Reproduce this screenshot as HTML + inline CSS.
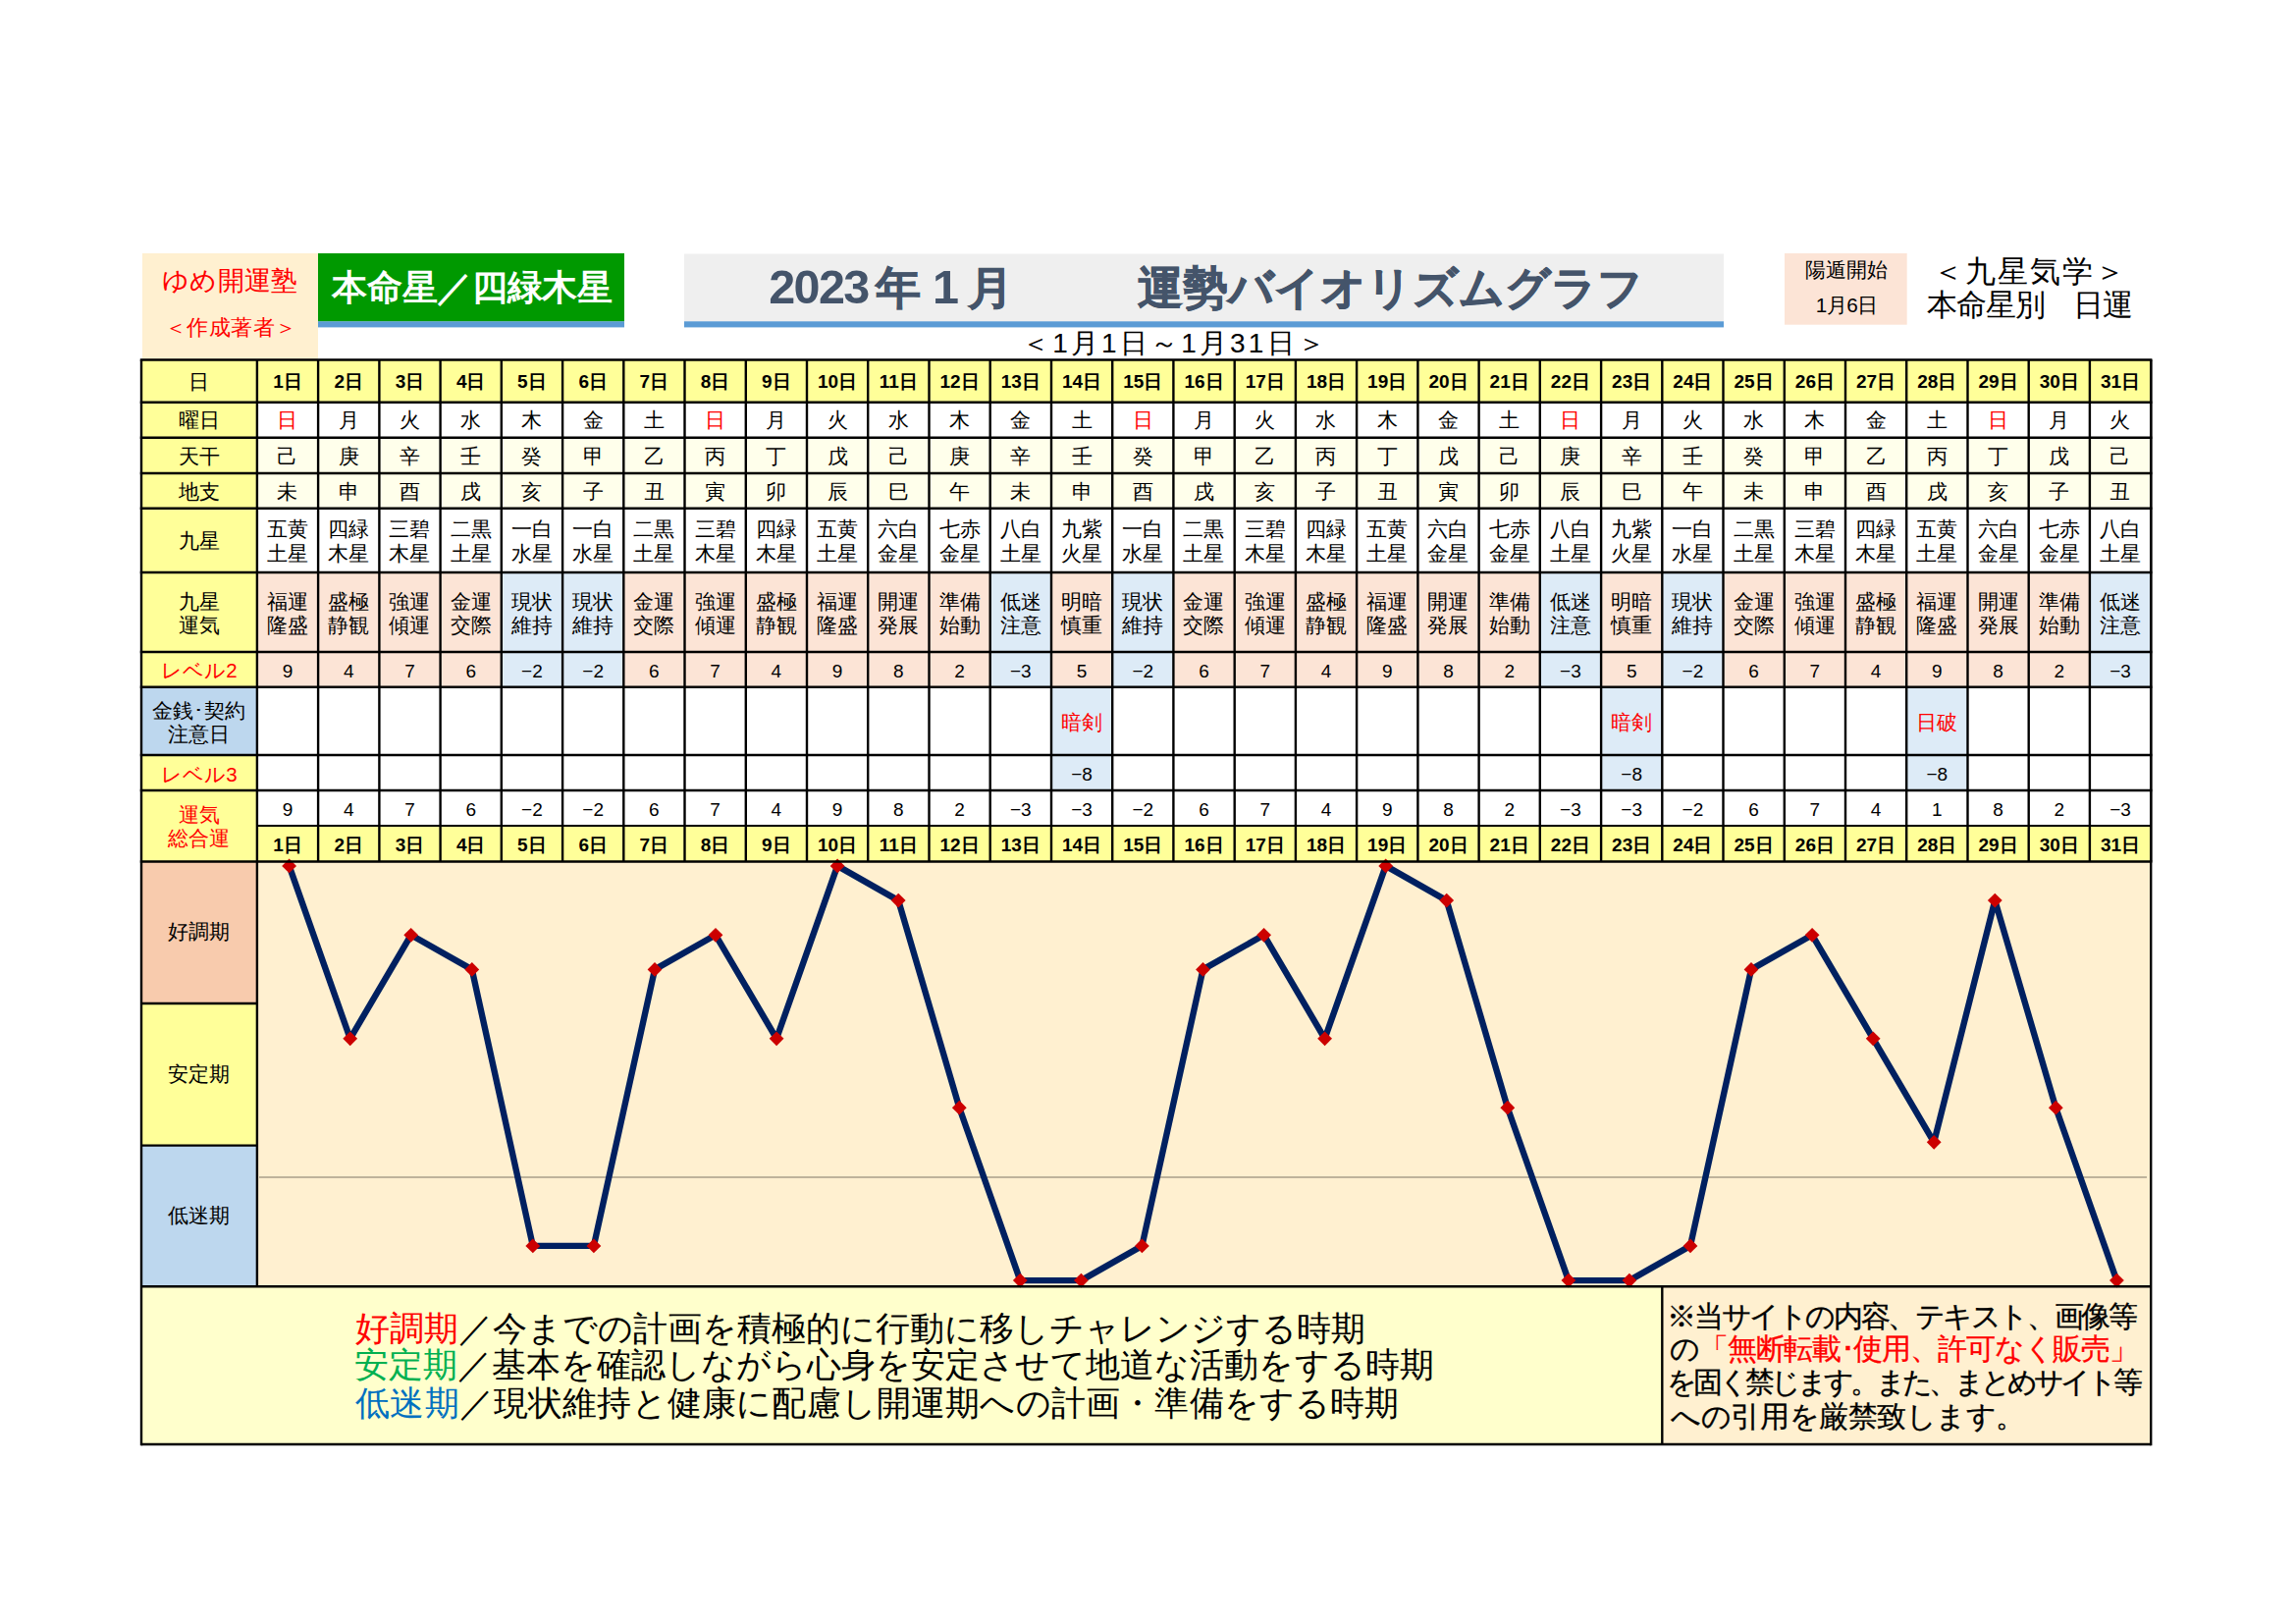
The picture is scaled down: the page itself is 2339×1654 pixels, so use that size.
<!DOCTYPE html>
<html lang="ja">
<head>
<meta charset="utf-8">
<title>2023年 1月 運勢バイオリズムグラフ 本命星／四緑木星</title>
<style>
html,body{margin:0;padding:0;background:#fff;}
body{width:2339px;height:1654px;position:relative;overflow:hidden;font-family:"Liberation Sans",sans-serif;color:#000;}
svg{position:absolute;left:0;top:0;}
.t{position:absolute;display:flex;align-items:center;justify-content:center;text-align:center;white-space:nowrap;overflow:visible;font-size:20px;line-height:24px;}
.c{font-size:20.5px;line-height:23.6px;}
.b{font-weight:bold;font-size:19px;}
.n{font-size:19px;}
.ft{position:absolute;white-space:nowrap;line-height:1.2;}
.dg{font-size:48.5px;letter-spacing:-1.6px;}
.k{-webkit-text-stroke:0.7px #44546A;}
.red{color:#FF0000;}.grn{color:#00B050;}.blu{color:#0070C0;}
</style>
</head>
<body>
<svg width="2339" height="1654" viewBox="0 0 2339 1654">
<rect x="145.0" y="258.0" width="179.0" height="108.0" fill="#FFF0D0"/>
<rect x="324.0" y="258.0" width="312.0" height="69.5" fill="#009900"/>
<rect x="324.0" y="327.3" width="312.0" height="6.1" fill="#5B9BD5"/>
<rect x="697.0" y="258.5" width="1059.0" height="69.0" fill="#EFEFEF"/>
<rect x="697.0" y="327.3" width="1059.0" height="6.1" fill="#5B9BD5"/>
<rect x="1818.0" y="258.0" width="124.7" height="72.7" fill="#FCE4D6"/>
<rect x="144.0" y="366.5" width="2047.2" height="511.0" fill="#FFFFFF"/>
<rect x="144.0" y="366.5" width="117.9" height="511.0" fill="#FFFF99"/>
<rect x="144.0" y="699.7" width="117.9" height="69.3" fill="#BDD7EE"/>
<rect x="261.9" y="366.5" width="1929.3" height="43.2" fill="#FFFF99"/>
<rect x="261.9" y="445.7" width="1929.3" height="72.1" fill="#FFFFEB"/>
<rect x="261.9" y="841.0" width="1929.3" height="36.5" fill="#FFFF99"/>
<rect x="261.9" y="583.0" width="62.2" height="116.7" fill="#FCE4D6"/>
<rect x="324.1" y="583.0" width="62.2" height="116.7" fill="#FCE4D6"/>
<rect x="386.4" y="583.0" width="62.2" height="116.7" fill="#FCE4D6"/>
<rect x="448.6" y="583.0" width="62.2" height="116.7" fill="#FCE4D6"/>
<rect x="510.8" y="583.0" width="62.2" height="116.7" fill="#DDEBF7"/>
<rect x="573.1" y="583.0" width="62.2" height="116.7" fill="#DDEBF7"/>
<rect x="635.3" y="583.0" width="62.2" height="116.7" fill="#FCE4D6"/>
<rect x="697.5" y="583.0" width="62.2" height="116.7" fill="#FCE4D6"/>
<rect x="759.8" y="583.0" width="62.2" height="116.7" fill="#FCE4D6"/>
<rect x="822.0" y="583.0" width="62.2" height="116.7" fill="#FCE4D6"/>
<rect x="884.2" y="583.0" width="62.2" height="116.7" fill="#FCE4D6"/>
<rect x="946.5" y="583.0" width="62.2" height="116.7" fill="#FCE4D6"/>
<rect x="1008.7" y="583.0" width="62.2" height="116.7" fill="#DDEBF7"/>
<rect x="1071.0" y="583.0" width="62.2" height="116.7" fill="#FCE4D6"/>
<rect x="1071.0" y="699.7" width="62.2" height="105.3" fill="#DDEBF7"/>
<rect x="1133.2" y="583.0" width="62.2" height="116.7" fill="#DDEBF7"/>
<rect x="1195.4" y="583.0" width="62.2" height="116.7" fill="#FCE4D6"/>
<rect x="1257.7" y="583.0" width="62.2" height="116.7" fill="#FCE4D6"/>
<rect x="1319.9" y="583.0" width="62.2" height="116.7" fill="#FCE4D6"/>
<rect x="1382.1" y="583.0" width="62.2" height="116.7" fill="#FCE4D6"/>
<rect x="1444.4" y="583.0" width="62.2" height="116.7" fill="#FCE4D6"/>
<rect x="1506.6" y="583.0" width="62.2" height="116.7" fill="#FCE4D6"/>
<rect x="1568.8" y="583.0" width="62.2" height="116.7" fill="#DDEBF7"/>
<rect x="1631.1" y="583.0" width="62.2" height="116.7" fill="#FCE4D6"/>
<rect x="1631.1" y="699.7" width="62.2" height="105.3" fill="#DDEBF7"/>
<rect x="1693.3" y="583.0" width="62.2" height="116.7" fill="#DDEBF7"/>
<rect x="1755.5" y="583.0" width="62.2" height="116.7" fill="#FCE4D6"/>
<rect x="1817.8" y="583.0" width="62.2" height="116.7" fill="#FCE4D6"/>
<rect x="1880.0" y="583.0" width="62.2" height="116.7" fill="#FCE4D6"/>
<rect x="1942.2" y="583.0" width="62.2" height="116.7" fill="#FCE4D6"/>
<rect x="1942.2" y="699.7" width="62.2" height="105.3" fill="#DDEBF7"/>
<rect x="2004.5" y="583.0" width="62.2" height="116.7" fill="#FCE4D6"/>
<rect x="2066.7" y="583.0" width="62.2" height="116.7" fill="#FCE4D6"/>
<rect x="2128.9" y="583.0" width="62.2" height="116.7" fill="#DDEBF7"/>
<rect x="261.9" y="877.5" width="1929.3" height="432.7" fill="#FFF0D0"/>
<rect x="144.0" y="877.5" width="117.9" height="144.5" fill="#F8CBAD"/>
<rect x="144.0" y="1022.0" width="117.9" height="144.6" fill="#FFFF99"/>
<rect x="144.0" y="1166.6" width="117.9" height="143.6" fill="#BDD7EE"/>
<rect x="144.0" y="1310.2" width="1549.3" height="160.8" fill="#FFFFCC"/>
<rect x="1693.3" y="1310.2" width="497.9" height="160.8" fill="#FFF0D0"/>
<line x1="264.0" y1="1199.0" x2="2187.0" y2="1199.0" stroke="#A89F8A" stroke-width="1.6"/>
<polyline points="294.6,881.9 356.7,1057.8 418.7,952.3 480.8,987.4 542.8,1268.9 604.9,1268.9 667.0,987.4 729.0,952.3 791.1,1057.8 853.1,881.9 915.2,917.1 977.3,1128.2 1039.3,1304.1 1101.4,1304.1 1163.4,1268.9 1225.5,987.4 1287.6,952.3 1349.6,1057.8 1411.7,881.9 1473.7,917.1 1535.8,1128.2 1597.9,1304.1 1659.9,1304.1 1722.0,1268.9 1784.0,987.4 1846.1,952.3 1908.2,1057.8 1970.2,1163.3 2032.3,917.1 2094.3,1128.2 2156.4,1304.1" fill="none" stroke="#002060" stroke-width="6.4" stroke-linejoin="round" stroke-linecap="round"/>
<path d="M294.6 874.5L302.0 881.9L294.6 889.3L287.2 881.9Z" fill="#CC0000"/>
<path d="M356.7 1050.4L364.1 1057.8L356.7 1065.2L349.3 1057.8Z" fill="#CC0000"/>
<path d="M418.7 944.9L426.1 952.3L418.7 959.7L411.3 952.3Z" fill="#CC0000"/>
<path d="M480.8 980.0L488.2 987.4L480.8 994.8L473.4 987.4Z" fill="#CC0000"/>
<path d="M542.8 1261.5L550.2 1268.9L542.8 1276.3L535.4 1268.9Z" fill="#CC0000"/>
<path d="M604.9 1261.5L612.3 1268.9L604.9 1276.3L597.5 1268.9Z" fill="#CC0000"/>
<path d="M667.0 980.0L674.4 987.4L667.0 994.8L659.6 987.4Z" fill="#CC0000"/>
<path d="M729.0 944.9L736.4 952.3L729.0 959.7L721.6 952.3Z" fill="#CC0000"/>
<path d="M791.1 1050.4L798.5 1057.8L791.1 1065.2L783.7 1057.8Z" fill="#CC0000"/>
<path d="M853.1 874.5L860.5 881.9L853.1 889.3L845.7 881.9Z" fill="#CC0000"/>
<path d="M915.2 909.7L922.6 917.1L915.2 924.5L907.8 917.1Z" fill="#CC0000"/>
<path d="M977.3 1120.8L984.7 1128.2L977.3 1135.6L969.9 1128.2Z" fill="#CC0000"/>
<path d="M1039.3 1296.7L1046.7 1304.1L1039.3 1311.5L1031.9 1304.1Z" fill="#CC0000"/>
<path d="M1101.4 1296.7L1108.8 1304.1L1101.4 1311.5L1094.0 1304.1Z" fill="#CC0000"/>
<path d="M1163.4 1261.5L1170.8 1268.9L1163.4 1276.3L1156.0 1268.9Z" fill="#CC0000"/>
<path d="M1225.5 980.0L1232.9 987.4L1225.5 994.8L1218.1 987.4Z" fill="#CC0000"/>
<path d="M1287.6 944.9L1295.0 952.3L1287.6 959.7L1280.2 952.3Z" fill="#CC0000"/>
<path d="M1349.6 1050.4L1357.0 1057.8L1349.6 1065.2L1342.2 1057.8Z" fill="#CC0000"/>
<path d="M1411.7 874.5L1419.1 881.9L1411.7 889.3L1404.3 881.9Z" fill="#CC0000"/>
<path d="M1473.7 909.7L1481.1 917.1L1473.7 924.5L1466.3 917.1Z" fill="#CC0000"/>
<path d="M1535.8 1120.8L1543.2 1128.2L1535.8 1135.6L1528.4 1128.2Z" fill="#CC0000"/>
<path d="M1597.9 1296.7L1605.3 1304.1L1597.9 1311.5L1590.5 1304.1Z" fill="#CC0000"/>
<path d="M1659.9 1296.7L1667.3 1304.1L1659.9 1311.5L1652.5 1304.1Z" fill="#CC0000"/>
<path d="M1722.0 1261.5L1729.4 1268.9L1722.0 1276.3L1714.6 1268.9Z" fill="#CC0000"/>
<path d="M1784.0 980.0L1791.4 987.4L1784.0 994.8L1776.6 987.4Z" fill="#CC0000"/>
<path d="M1846.1 944.9L1853.5 952.3L1846.1 959.7L1838.7 952.3Z" fill="#CC0000"/>
<path d="M1908.2 1050.4L1915.6 1057.8L1908.2 1065.2L1900.8 1057.8Z" fill="#CC0000"/>
<path d="M1970.2 1155.9L1977.6 1163.3L1970.2 1170.7L1962.8 1163.3Z" fill="#CC0000"/>
<path d="M2032.3 909.7L2039.7 917.1L2032.3 924.5L2024.9 917.1Z" fill="#CC0000"/>
<path d="M2094.3 1120.8L2101.7 1128.2L2094.3 1135.6L2086.9 1128.2Z" fill="#CC0000"/>
<path d="M2156.4 1296.7L2163.8 1304.1L2156.4 1311.5L2149.0 1304.1Z" fill="#CC0000"/>
<line x1="142.8" y1="366.5" x2="2192.4" y2="366.5" stroke="#000" stroke-width="2.4"/>
<line x1="142.8" y1="409.7" x2="2192.4" y2="409.7" stroke="#000" stroke-width="2.4"/>
<line x1="142.8" y1="445.7" x2="2192.4" y2="445.7" stroke="#000" stroke-width="2.4"/>
<line x1="142.8" y1="482.0" x2="2192.4" y2="482.0" stroke="#000" stroke-width="2.4"/>
<line x1="142.8" y1="517.8" x2="2192.4" y2="517.8" stroke="#000" stroke-width="2.4"/>
<line x1="142.8" y1="583.0" x2="2192.4" y2="583.0" stroke="#000" stroke-width="2.4"/>
<line x1="142.8" y1="664.0" x2="2192.4" y2="664.0" stroke="#000" stroke-width="2.4"/>
<line x1="142.8" y1="699.7" x2="2192.4" y2="699.7" stroke="#000" stroke-width="2.4"/>
<line x1="142.8" y1="769.0" x2="2192.4" y2="769.0" stroke="#000" stroke-width="2.4"/>
<line x1="142.8" y1="805.0" x2="2192.4" y2="805.0" stroke="#000" stroke-width="2.4"/>
<line x1="261.9" y1="841.0" x2="2191.2" y2="841.0" stroke="#000" stroke-width="1.8"/>
<line x1="142.8" y1="877.5" x2="2192.4" y2="877.5" stroke="#000" stroke-width="2.4"/>
<line x1="261.9" y1="366.5" x2="261.9" y2="877.5" stroke="#000" stroke-width="2.4"/>
<line x1="324.1" y1="366.5" x2="324.1" y2="877.5" stroke="#000" stroke-width="2.4"/>
<line x1="386.4" y1="366.5" x2="386.4" y2="877.5" stroke="#000" stroke-width="2.4"/>
<line x1="448.6" y1="366.5" x2="448.6" y2="877.5" stroke="#000" stroke-width="2.4"/>
<line x1="510.8" y1="366.5" x2="510.8" y2="877.5" stroke="#000" stroke-width="2.4"/>
<line x1="573.1" y1="366.5" x2="573.1" y2="877.5" stroke="#000" stroke-width="2.4"/>
<line x1="635.3" y1="366.5" x2="635.3" y2="877.5" stroke="#000" stroke-width="2.4"/>
<line x1="697.5" y1="366.5" x2="697.5" y2="877.5" stroke="#000" stroke-width="2.4"/>
<line x1="759.8" y1="366.5" x2="759.8" y2="877.5" stroke="#000" stroke-width="2.4"/>
<line x1="822.0" y1="366.5" x2="822.0" y2="877.5" stroke="#000" stroke-width="2.4"/>
<line x1="884.2" y1="366.5" x2="884.2" y2="877.5" stroke="#000" stroke-width="2.4"/>
<line x1="946.5" y1="366.5" x2="946.5" y2="877.5" stroke="#000" stroke-width="2.4"/>
<line x1="1008.7" y1="366.5" x2="1008.7" y2="877.5" stroke="#000" stroke-width="2.4"/>
<line x1="1071.0" y1="366.5" x2="1071.0" y2="877.5" stroke="#000" stroke-width="2.4"/>
<line x1="1133.2" y1="366.5" x2="1133.2" y2="877.5" stroke="#000" stroke-width="2.4"/>
<line x1="1195.4" y1="366.5" x2="1195.4" y2="877.5" stroke="#000" stroke-width="2.4"/>
<line x1="1257.7" y1="366.5" x2="1257.7" y2="877.5" stroke="#000" stroke-width="2.4"/>
<line x1="1319.9" y1="366.5" x2="1319.9" y2="877.5" stroke="#000" stroke-width="2.4"/>
<line x1="1382.1" y1="366.5" x2="1382.1" y2="877.5" stroke="#000" stroke-width="2.4"/>
<line x1="1444.4" y1="366.5" x2="1444.4" y2="877.5" stroke="#000" stroke-width="2.4"/>
<line x1="1506.6" y1="366.5" x2="1506.6" y2="877.5" stroke="#000" stroke-width="2.4"/>
<line x1="1568.8" y1="366.5" x2="1568.8" y2="877.5" stroke="#000" stroke-width="2.4"/>
<line x1="1631.1" y1="366.5" x2="1631.1" y2="877.5" stroke="#000" stroke-width="2.4"/>
<line x1="1693.3" y1="366.5" x2="1693.3" y2="877.5" stroke="#000" stroke-width="2.4"/>
<line x1="1755.5" y1="366.5" x2="1755.5" y2="877.5" stroke="#000" stroke-width="2.4"/>
<line x1="1817.8" y1="366.5" x2="1817.8" y2="877.5" stroke="#000" stroke-width="2.4"/>
<line x1="1880.0" y1="366.5" x2="1880.0" y2="877.5" stroke="#000" stroke-width="2.4"/>
<line x1="1942.2" y1="366.5" x2="1942.2" y2="877.5" stroke="#000" stroke-width="2.4"/>
<line x1="2004.5" y1="366.5" x2="2004.5" y2="877.5" stroke="#000" stroke-width="2.4"/>
<line x1="2066.7" y1="366.5" x2="2066.7" y2="877.5" stroke="#000" stroke-width="2.4"/>
<line x1="2128.9" y1="366.5" x2="2128.9" y2="877.5" stroke="#000" stroke-width="2.4"/>
<line x1="2191.2" y1="366.5" x2="2191.2" y2="877.5" stroke="#000" stroke-width="2.4"/>
<line x1="144.0" y1="366.5" x2="144.0" y2="1472.2" stroke="#000" stroke-width="2.4"/>
<line x1="2191.2" y1="366.5" x2="2191.2" y2="1472.2" stroke="#000" stroke-width="2.4"/>
<line x1="261.9" y1="877.5" x2="261.9" y2="1310.2" stroke="#000" stroke-width="2.4"/>
<line x1="144.0" y1="1022.0" x2="261.9" y2="1022.0" stroke="#000" stroke-width="2.4"/>
<line x1="144.0" y1="1166.6" x2="261.9" y2="1166.6" stroke="#000" stroke-width="2.4"/>
<line x1="144.0" y1="1310.2" x2="2191.2" y2="1310.2" stroke="#000" stroke-width="2.4"/>
<line x1="144.0" y1="1471.0" x2="2191.2" y2="1471.0" stroke="#000" stroke-width="2.4"/>
<line x1="1693.3" y1="1310.2" x2="1693.3" y2="1471.0" stroke="#000" stroke-width="2.4"/>
</svg>
<div class="ft" style="left:165.2px;top:270.0px;letter-spacing:0.20px;--w:138.0;color:#F00;font-size:27px;">ゆめ開運塾</div>
<div class="ft" style="left:167.8px;top:321.1px;letter-spacing:0.50px;--w:135.0;color:#F00;font-size:22px;">＜作成著者＞</div>
<div class="ft" style="left:338.2px;top:271.2px;letter-spacing:-0.31px;--w:285.5;color:#fff;font-weight:bold;font-size:36px;">本命星／四緑木星</div>
<div class="ft" style="left:783.2px;top:263.2px;letter-spacing:-0.19px;--w:249.1;color:#44546A;font-weight:bold;font-size:46px;"><span class="dg" style="margin-right:7px">2023</span><span class="k">年</span> <span class="dg" style="margin-right:11px">1</span><span class="k">月</span></div>
<div class="ft" style="left:1158.6px;top:266.1px;letter-spacing:0.05px;--w:515.6;color:#44546A;font-weight:bold;font-size:46px;-webkit-text-stroke:0.8px #44546A;">運勢バイオリズムグラフ</div>
<div class="ft" style="left:1041.0px;top:333.0px;letter-spacing:3.17px;--w:311.9;font-size:28px;">＜1月1日～1月31日＞</div>
<div class="ft" style="left:1839.2px;top:263.0px;letter-spacing:-0.13px;--w:83.5;font-size:20.7px;">陽遁開始</div>
<div class="ft" style="left:1849.8px;top:299.0px;letter-spacing:-0.50px;--w:63.0;font-size:20.7px;">1月6日</div>
<div class="ft" style="left:1969.0px;top:258.2px;letter-spacing:2.00px;--w:198.0;font-size:30.5px;">＜九星気学＞</div>
<div class="ft" style="left:1963.2px;top:292.4px;letter-spacing:-1.14px;--w:209.0;font-size:30.5px;">本命星別　日運</div>
<div class="ft" style="left:362.2px;top:1333.0px;letter-spacing:-0.00px;--w:1029.0;font-size:34.7px;font-weight:300;"><span class="red">好調期</span>／今までの計画を積極的に行動に移しチャレンジする時期</div>
<div class="ft" style="left:361.2px;top:1370.2px;letter-spacing:0.05px;--w:1099.6;font-size:34.7px;font-weight:300;"><span class="grn">安定期</span>／基本を確認しながら心身を安定させて地道な活動をする時期</div>
<div class="ft" style="left:362.2px;top:1409.0px;letter-spacing:0.18px;--w:1063.4;font-size:34.7px;font-weight:300;"><span class="blu">低迷期</span>／現状維持と健康に配慮し開運期への計画・準備をする時期</div>
<div class="ft" style="left:1698.4px;top:1323.0px;letter-spacing:-2.41px;--w:477.0;font-size:29.5px;-webkit-text-stroke:0.3px;">※当サイトの内容、テキスト、画像等</div>
<div class="ft" style="left:1701.4px;top:1356.4px;letter-spacing:-1.29px;--w:476.1;font-size:29.5px;-webkit-text-stroke:0.3px;">の<span class="red">「無断転載･使用、許可なく販売」</span></div>
<div class="ft" style="left:1698.4px;top:1390.0px;letter-spacing:-4.03px;--w:480.5;font-size:29.5px;-webkit-text-stroke:0.3px;">を固く禁じます。また、まとめサイト等</div>
<div class="ft" style="left:1702.4px;top:1425.4px;letter-spacing:-0.46px;--w:360.5;font-size:29.5px;-webkit-text-stroke:0.3px;">への引用を厳禁致します。</div>
<div class="t c " style="left:144.0px;top:367.0px;width:117.9px;height:43.2px;">日</div>
<div class="t c " style="left:144.0px;top:410.2px;width:117.9px;height:36.0px;">曜日</div>
<div class="t c " style="left:144.0px;top:446.2px;width:117.9px;height:36.3px;">天干</div>
<div class="t c " style="left:144.0px;top:482.5px;width:117.9px;height:35.8px;">地支</div>
<div class="t c " style="left:144.0px;top:518.3px;width:117.9px;height:65.2px;">九星</div>
<div class="t c " style="left:144.0px;top:584.4px;width:117.9px;height:81.0px;">九星<br>運気</div>
<div class="t c red" style="left:144.0px;top:665.3px;width:117.9px;height:35.7px;">レベル2</div>
<div class="t c " style="left:144.0px;top:701.3px;width:117.9px;height:69.3px;">金銭･契約<br>注意日</div>
<div class="t c red" style="left:144.0px;top:770.3px;width:117.9px;height:36.0px;">レベル3</div>
<div class="t c red" style="left:144.0px;top:805.5px;width:117.9px;height:72.5px;">運気<br>総合運</div>
<div class="t c b" style="left:261.9px;top:367.0px;width:62.2px;height:43.2px;">1日</div>
<div class="t c red" style="left:261.9px;top:410.2px;width:62.2px;height:36.0px;">日</div>
<div class="t c " style="left:261.9px;top:446.2px;width:62.2px;height:36.3px;">己</div>
<div class="t c " style="left:261.9px;top:482.5px;width:62.2px;height:35.8px;">未</div>
<div class="t c " style="left:261.9px;top:518.4px;width:62.2px;height:65.2px;line-height:25px;">五黄<br>土星</div>
<div class="t c " style="left:261.9px;top:584.4px;width:62.2px;height:81.0px;">福運<br>隆盛</div>
<div class="t c n" style="left:261.9px;top:665.8px;width:62.2px;height:35.7px;">9</div>
<div class="t c n" style="left:261.9px;top:806.8px;width:62.2px;height:36.0px;">9</div>
<div class="t c b" style="left:261.9px;top:842.8px;width:62.2px;height:36.5px;">1日</div>
<div class="t c b" style="left:324.1px;top:367.0px;width:62.2px;height:43.2px;">2日</div>
<div class="t c " style="left:324.1px;top:410.2px;width:62.2px;height:36.0px;">月</div>
<div class="t c " style="left:324.1px;top:446.2px;width:62.2px;height:36.3px;">庚</div>
<div class="t c " style="left:324.1px;top:482.5px;width:62.2px;height:35.8px;">申</div>
<div class="t c " style="left:324.1px;top:518.4px;width:62.2px;height:65.2px;line-height:25px;">四緑<br>木星</div>
<div class="t c " style="left:324.1px;top:584.4px;width:62.2px;height:81.0px;">盛極<br>静観</div>
<div class="t c n" style="left:324.1px;top:665.8px;width:62.2px;height:35.7px;">4</div>
<div class="t c n" style="left:324.1px;top:806.8px;width:62.2px;height:36.0px;">4</div>
<div class="t c b" style="left:324.1px;top:842.8px;width:62.2px;height:36.5px;">2日</div>
<div class="t c b" style="left:386.4px;top:367.0px;width:62.2px;height:43.2px;">3日</div>
<div class="t c " style="left:386.4px;top:410.2px;width:62.2px;height:36.0px;">火</div>
<div class="t c " style="left:386.4px;top:446.2px;width:62.2px;height:36.3px;">辛</div>
<div class="t c " style="left:386.4px;top:482.5px;width:62.2px;height:35.8px;">酉</div>
<div class="t c " style="left:386.4px;top:518.4px;width:62.2px;height:65.2px;line-height:25px;">三碧<br>木星</div>
<div class="t c " style="left:386.4px;top:584.4px;width:62.2px;height:81.0px;">強運<br>傾運</div>
<div class="t c n" style="left:386.4px;top:665.8px;width:62.2px;height:35.7px;">7</div>
<div class="t c n" style="left:386.4px;top:806.8px;width:62.2px;height:36.0px;">7</div>
<div class="t c b" style="left:386.4px;top:842.8px;width:62.2px;height:36.5px;">3日</div>
<div class="t c b" style="left:448.6px;top:367.0px;width:62.2px;height:43.2px;">4日</div>
<div class="t c " style="left:448.6px;top:410.2px;width:62.2px;height:36.0px;">水</div>
<div class="t c " style="left:448.6px;top:446.2px;width:62.2px;height:36.3px;">壬</div>
<div class="t c " style="left:448.6px;top:482.5px;width:62.2px;height:35.8px;">戌</div>
<div class="t c " style="left:448.6px;top:518.4px;width:62.2px;height:65.2px;line-height:25px;">二黒<br>土星</div>
<div class="t c " style="left:448.6px;top:584.4px;width:62.2px;height:81.0px;">金運<br>交際</div>
<div class="t c n" style="left:448.6px;top:665.8px;width:62.2px;height:35.7px;">6</div>
<div class="t c n" style="left:448.6px;top:806.8px;width:62.2px;height:36.0px;">6</div>
<div class="t c b" style="left:448.6px;top:842.8px;width:62.2px;height:36.5px;">4日</div>
<div class="t c b" style="left:510.8px;top:367.0px;width:62.2px;height:43.2px;">5日</div>
<div class="t c " style="left:510.8px;top:410.2px;width:62.2px;height:36.0px;">木</div>
<div class="t c " style="left:510.8px;top:446.2px;width:62.2px;height:36.3px;">癸</div>
<div class="t c " style="left:510.8px;top:482.5px;width:62.2px;height:35.8px;">亥</div>
<div class="t c " style="left:510.8px;top:518.4px;width:62.2px;height:65.2px;line-height:25px;">一白<br>水星</div>
<div class="t c " style="left:510.8px;top:584.4px;width:62.2px;height:81.0px;">現状<br>維持</div>
<div class="t c n" style="left:510.8px;top:665.8px;width:62.2px;height:35.7px;">−2</div>
<div class="t c n" style="left:510.8px;top:806.8px;width:62.2px;height:36.0px;">−2</div>
<div class="t c b" style="left:510.8px;top:842.8px;width:62.2px;height:36.5px;">5日</div>
<div class="t c b" style="left:573.1px;top:367.0px;width:62.2px;height:43.2px;">6日</div>
<div class="t c " style="left:573.1px;top:410.2px;width:62.2px;height:36.0px;">金</div>
<div class="t c " style="left:573.1px;top:446.2px;width:62.2px;height:36.3px;">甲</div>
<div class="t c " style="left:573.1px;top:482.5px;width:62.2px;height:35.8px;">子</div>
<div class="t c " style="left:573.1px;top:518.4px;width:62.2px;height:65.2px;line-height:25px;">一白<br>水星</div>
<div class="t c " style="left:573.1px;top:584.4px;width:62.2px;height:81.0px;">現状<br>維持</div>
<div class="t c n" style="left:573.1px;top:665.8px;width:62.2px;height:35.7px;">−2</div>
<div class="t c n" style="left:573.1px;top:806.8px;width:62.2px;height:36.0px;">−2</div>
<div class="t c b" style="left:573.1px;top:842.8px;width:62.2px;height:36.5px;">6日</div>
<div class="t c b" style="left:635.3px;top:367.0px;width:62.2px;height:43.2px;">7日</div>
<div class="t c " style="left:635.3px;top:410.2px;width:62.2px;height:36.0px;">土</div>
<div class="t c " style="left:635.3px;top:446.2px;width:62.2px;height:36.3px;">乙</div>
<div class="t c " style="left:635.3px;top:482.5px;width:62.2px;height:35.8px;">丑</div>
<div class="t c " style="left:635.3px;top:518.4px;width:62.2px;height:65.2px;line-height:25px;">二黒<br>土星</div>
<div class="t c " style="left:635.3px;top:584.4px;width:62.2px;height:81.0px;">金運<br>交際</div>
<div class="t c n" style="left:635.3px;top:665.8px;width:62.2px;height:35.7px;">6</div>
<div class="t c n" style="left:635.3px;top:806.8px;width:62.2px;height:36.0px;">6</div>
<div class="t c b" style="left:635.3px;top:842.8px;width:62.2px;height:36.5px;">7日</div>
<div class="t c b" style="left:697.5px;top:367.0px;width:62.2px;height:43.2px;">8日</div>
<div class="t c red" style="left:697.5px;top:410.2px;width:62.2px;height:36.0px;">日</div>
<div class="t c " style="left:697.5px;top:446.2px;width:62.2px;height:36.3px;">丙</div>
<div class="t c " style="left:697.5px;top:482.5px;width:62.2px;height:35.8px;">寅</div>
<div class="t c " style="left:697.5px;top:518.4px;width:62.2px;height:65.2px;line-height:25px;">三碧<br>木星</div>
<div class="t c " style="left:697.5px;top:584.4px;width:62.2px;height:81.0px;">強運<br>傾運</div>
<div class="t c n" style="left:697.5px;top:665.8px;width:62.2px;height:35.7px;">7</div>
<div class="t c n" style="left:697.5px;top:806.8px;width:62.2px;height:36.0px;">7</div>
<div class="t c b" style="left:697.5px;top:842.8px;width:62.2px;height:36.5px;">8日</div>
<div class="t c b" style="left:759.8px;top:367.0px;width:62.2px;height:43.2px;">9日</div>
<div class="t c " style="left:759.8px;top:410.2px;width:62.2px;height:36.0px;">月</div>
<div class="t c " style="left:759.8px;top:446.2px;width:62.2px;height:36.3px;">丁</div>
<div class="t c " style="left:759.8px;top:482.5px;width:62.2px;height:35.8px;">卯</div>
<div class="t c " style="left:759.8px;top:518.4px;width:62.2px;height:65.2px;line-height:25px;">四緑<br>木星</div>
<div class="t c " style="left:759.8px;top:584.4px;width:62.2px;height:81.0px;">盛極<br>静観</div>
<div class="t c n" style="left:759.8px;top:665.8px;width:62.2px;height:35.7px;">4</div>
<div class="t c n" style="left:759.8px;top:806.8px;width:62.2px;height:36.0px;">4</div>
<div class="t c b" style="left:759.8px;top:842.8px;width:62.2px;height:36.5px;">9日</div>
<div class="t c b" style="left:822.0px;top:367.0px;width:62.2px;height:43.2px;">10日</div>
<div class="t c " style="left:822.0px;top:410.2px;width:62.2px;height:36.0px;">火</div>
<div class="t c " style="left:822.0px;top:446.2px;width:62.2px;height:36.3px;">戊</div>
<div class="t c " style="left:822.0px;top:482.5px;width:62.2px;height:35.8px;">辰</div>
<div class="t c " style="left:822.0px;top:518.4px;width:62.2px;height:65.2px;line-height:25px;">五黄<br>土星</div>
<div class="t c " style="left:822.0px;top:584.4px;width:62.2px;height:81.0px;">福運<br>隆盛</div>
<div class="t c n" style="left:822.0px;top:665.8px;width:62.2px;height:35.7px;">9</div>
<div class="t c n" style="left:822.0px;top:806.8px;width:62.2px;height:36.0px;">9</div>
<div class="t c b" style="left:822.0px;top:842.8px;width:62.2px;height:36.5px;">10日</div>
<div class="t c b" style="left:884.2px;top:367.0px;width:62.2px;height:43.2px;">11日</div>
<div class="t c " style="left:884.2px;top:410.2px;width:62.2px;height:36.0px;">水</div>
<div class="t c " style="left:884.2px;top:446.2px;width:62.2px;height:36.3px;">己</div>
<div class="t c " style="left:884.2px;top:482.5px;width:62.2px;height:35.8px;">巳</div>
<div class="t c " style="left:884.2px;top:518.4px;width:62.2px;height:65.2px;line-height:25px;">六白<br>金星</div>
<div class="t c " style="left:884.2px;top:584.4px;width:62.2px;height:81.0px;">開運<br>発展</div>
<div class="t c n" style="left:884.2px;top:665.8px;width:62.2px;height:35.7px;">8</div>
<div class="t c n" style="left:884.2px;top:806.8px;width:62.2px;height:36.0px;">8</div>
<div class="t c b" style="left:884.2px;top:842.8px;width:62.2px;height:36.5px;">11日</div>
<div class="t c b" style="left:946.5px;top:367.0px;width:62.2px;height:43.2px;">12日</div>
<div class="t c " style="left:946.5px;top:410.2px;width:62.2px;height:36.0px;">木</div>
<div class="t c " style="left:946.5px;top:446.2px;width:62.2px;height:36.3px;">庚</div>
<div class="t c " style="left:946.5px;top:482.5px;width:62.2px;height:35.8px;">午</div>
<div class="t c " style="left:946.5px;top:518.4px;width:62.2px;height:65.2px;line-height:25px;">七赤<br>金星</div>
<div class="t c " style="left:946.5px;top:584.4px;width:62.2px;height:81.0px;">準備<br>始動</div>
<div class="t c n" style="left:946.5px;top:665.8px;width:62.2px;height:35.7px;">2</div>
<div class="t c n" style="left:946.5px;top:806.8px;width:62.2px;height:36.0px;">2</div>
<div class="t c b" style="left:946.5px;top:842.8px;width:62.2px;height:36.5px;">12日</div>
<div class="t c b" style="left:1008.7px;top:367.0px;width:62.2px;height:43.2px;">13日</div>
<div class="t c " style="left:1008.7px;top:410.2px;width:62.2px;height:36.0px;">金</div>
<div class="t c " style="left:1008.7px;top:446.2px;width:62.2px;height:36.3px;">辛</div>
<div class="t c " style="left:1008.7px;top:482.5px;width:62.2px;height:35.8px;">未</div>
<div class="t c " style="left:1008.7px;top:518.4px;width:62.2px;height:65.2px;line-height:25px;">八白<br>土星</div>
<div class="t c " style="left:1008.7px;top:584.4px;width:62.2px;height:81.0px;">低迷<br>注意</div>
<div class="t c n" style="left:1008.7px;top:665.8px;width:62.2px;height:35.7px;">−3</div>
<div class="t c n" style="left:1008.7px;top:806.8px;width:62.2px;height:36.0px;">−3</div>
<div class="t c b" style="left:1008.7px;top:842.8px;width:62.2px;height:36.5px;">13日</div>
<div class="t c b" style="left:1071.0px;top:367.0px;width:62.2px;height:43.2px;">14日</div>
<div class="t c " style="left:1071.0px;top:410.2px;width:62.2px;height:36.0px;">土</div>
<div class="t c " style="left:1071.0px;top:446.2px;width:62.2px;height:36.3px;">壬</div>
<div class="t c " style="left:1071.0px;top:482.5px;width:62.2px;height:35.8px;">申</div>
<div class="t c " style="left:1071.0px;top:518.4px;width:62.2px;height:65.2px;line-height:25px;">九紫<br>火星</div>
<div class="t c " style="left:1071.0px;top:584.4px;width:62.2px;height:81.0px;">明暗<br>慎重</div>
<div class="t c n" style="left:1071.0px;top:665.8px;width:62.2px;height:35.7px;">5</div>
<div class="t c red" style="left:1071.0px;top:700.7px;width:62.2px;height:69.3px;">暗剣</div>
<div class="t c n" style="left:1071.0px;top:770.8px;width:62.2px;height:36.0px;">−8</div>
<div class="t c n" style="left:1071.0px;top:806.8px;width:62.2px;height:36.0px;">−3</div>
<div class="t c b" style="left:1071.0px;top:842.8px;width:62.2px;height:36.5px;">14日</div>
<div class="t c b" style="left:1133.2px;top:367.0px;width:62.2px;height:43.2px;">15日</div>
<div class="t c red" style="left:1133.2px;top:410.2px;width:62.2px;height:36.0px;">日</div>
<div class="t c " style="left:1133.2px;top:446.2px;width:62.2px;height:36.3px;">癸</div>
<div class="t c " style="left:1133.2px;top:482.5px;width:62.2px;height:35.8px;">酉</div>
<div class="t c " style="left:1133.2px;top:518.4px;width:62.2px;height:65.2px;line-height:25px;">一白<br>水星</div>
<div class="t c " style="left:1133.2px;top:584.4px;width:62.2px;height:81.0px;">現状<br>維持</div>
<div class="t c n" style="left:1133.2px;top:665.8px;width:62.2px;height:35.7px;">−2</div>
<div class="t c n" style="left:1133.2px;top:806.8px;width:62.2px;height:36.0px;">−2</div>
<div class="t c b" style="left:1133.2px;top:842.8px;width:62.2px;height:36.5px;">15日</div>
<div class="t c b" style="left:1195.4px;top:367.0px;width:62.2px;height:43.2px;">16日</div>
<div class="t c " style="left:1195.4px;top:410.2px;width:62.2px;height:36.0px;">月</div>
<div class="t c " style="left:1195.4px;top:446.2px;width:62.2px;height:36.3px;">甲</div>
<div class="t c " style="left:1195.4px;top:482.5px;width:62.2px;height:35.8px;">戌</div>
<div class="t c " style="left:1195.4px;top:518.4px;width:62.2px;height:65.2px;line-height:25px;">二黒<br>土星</div>
<div class="t c " style="left:1195.4px;top:584.4px;width:62.2px;height:81.0px;">金運<br>交際</div>
<div class="t c n" style="left:1195.4px;top:665.8px;width:62.2px;height:35.7px;">6</div>
<div class="t c n" style="left:1195.4px;top:806.8px;width:62.2px;height:36.0px;">6</div>
<div class="t c b" style="left:1195.4px;top:842.8px;width:62.2px;height:36.5px;">16日</div>
<div class="t c b" style="left:1257.7px;top:367.0px;width:62.2px;height:43.2px;">17日</div>
<div class="t c " style="left:1257.7px;top:410.2px;width:62.2px;height:36.0px;">火</div>
<div class="t c " style="left:1257.7px;top:446.2px;width:62.2px;height:36.3px;">乙</div>
<div class="t c " style="left:1257.7px;top:482.5px;width:62.2px;height:35.8px;">亥</div>
<div class="t c " style="left:1257.7px;top:518.4px;width:62.2px;height:65.2px;line-height:25px;">三碧<br>木星</div>
<div class="t c " style="left:1257.7px;top:584.4px;width:62.2px;height:81.0px;">強運<br>傾運</div>
<div class="t c n" style="left:1257.7px;top:665.8px;width:62.2px;height:35.7px;">7</div>
<div class="t c n" style="left:1257.7px;top:806.8px;width:62.2px;height:36.0px;">7</div>
<div class="t c b" style="left:1257.7px;top:842.8px;width:62.2px;height:36.5px;">17日</div>
<div class="t c b" style="left:1319.9px;top:367.0px;width:62.2px;height:43.2px;">18日</div>
<div class="t c " style="left:1319.9px;top:410.2px;width:62.2px;height:36.0px;">水</div>
<div class="t c " style="left:1319.9px;top:446.2px;width:62.2px;height:36.3px;">丙</div>
<div class="t c " style="left:1319.9px;top:482.5px;width:62.2px;height:35.8px;">子</div>
<div class="t c " style="left:1319.9px;top:518.4px;width:62.2px;height:65.2px;line-height:25px;">四緑<br>木星</div>
<div class="t c " style="left:1319.9px;top:584.4px;width:62.2px;height:81.0px;">盛極<br>静観</div>
<div class="t c n" style="left:1319.9px;top:665.8px;width:62.2px;height:35.7px;">4</div>
<div class="t c n" style="left:1319.9px;top:806.8px;width:62.2px;height:36.0px;">4</div>
<div class="t c b" style="left:1319.9px;top:842.8px;width:62.2px;height:36.5px;">18日</div>
<div class="t c b" style="left:1382.1px;top:367.0px;width:62.2px;height:43.2px;">19日</div>
<div class="t c " style="left:1382.1px;top:410.2px;width:62.2px;height:36.0px;">木</div>
<div class="t c " style="left:1382.1px;top:446.2px;width:62.2px;height:36.3px;">丁</div>
<div class="t c " style="left:1382.1px;top:482.5px;width:62.2px;height:35.8px;">丑</div>
<div class="t c " style="left:1382.1px;top:518.4px;width:62.2px;height:65.2px;line-height:25px;">五黄<br>土星</div>
<div class="t c " style="left:1382.1px;top:584.4px;width:62.2px;height:81.0px;">福運<br>隆盛</div>
<div class="t c n" style="left:1382.1px;top:665.8px;width:62.2px;height:35.7px;">9</div>
<div class="t c n" style="left:1382.1px;top:806.8px;width:62.2px;height:36.0px;">9</div>
<div class="t c b" style="left:1382.1px;top:842.8px;width:62.2px;height:36.5px;">19日</div>
<div class="t c b" style="left:1444.4px;top:367.0px;width:62.2px;height:43.2px;">20日</div>
<div class="t c " style="left:1444.4px;top:410.2px;width:62.2px;height:36.0px;">金</div>
<div class="t c " style="left:1444.4px;top:446.2px;width:62.2px;height:36.3px;">戊</div>
<div class="t c " style="left:1444.4px;top:482.5px;width:62.2px;height:35.8px;">寅</div>
<div class="t c " style="left:1444.4px;top:518.4px;width:62.2px;height:65.2px;line-height:25px;">六白<br>金星</div>
<div class="t c " style="left:1444.4px;top:584.4px;width:62.2px;height:81.0px;">開運<br>発展</div>
<div class="t c n" style="left:1444.4px;top:665.8px;width:62.2px;height:35.7px;">8</div>
<div class="t c n" style="left:1444.4px;top:806.8px;width:62.2px;height:36.0px;">8</div>
<div class="t c b" style="left:1444.4px;top:842.8px;width:62.2px;height:36.5px;">20日</div>
<div class="t c b" style="left:1506.6px;top:367.0px;width:62.2px;height:43.2px;">21日</div>
<div class="t c " style="left:1506.6px;top:410.2px;width:62.2px;height:36.0px;">土</div>
<div class="t c " style="left:1506.6px;top:446.2px;width:62.2px;height:36.3px;">己</div>
<div class="t c " style="left:1506.6px;top:482.5px;width:62.2px;height:35.8px;">卯</div>
<div class="t c " style="left:1506.6px;top:518.4px;width:62.2px;height:65.2px;line-height:25px;">七赤<br>金星</div>
<div class="t c " style="left:1506.6px;top:584.4px;width:62.2px;height:81.0px;">準備<br>始動</div>
<div class="t c n" style="left:1506.6px;top:665.8px;width:62.2px;height:35.7px;">2</div>
<div class="t c n" style="left:1506.6px;top:806.8px;width:62.2px;height:36.0px;">2</div>
<div class="t c b" style="left:1506.6px;top:842.8px;width:62.2px;height:36.5px;">21日</div>
<div class="t c b" style="left:1568.8px;top:367.0px;width:62.2px;height:43.2px;">22日</div>
<div class="t c red" style="left:1568.8px;top:410.2px;width:62.2px;height:36.0px;">日</div>
<div class="t c " style="left:1568.8px;top:446.2px;width:62.2px;height:36.3px;">庚</div>
<div class="t c " style="left:1568.8px;top:482.5px;width:62.2px;height:35.8px;">辰</div>
<div class="t c " style="left:1568.8px;top:518.4px;width:62.2px;height:65.2px;line-height:25px;">八白<br>土星</div>
<div class="t c " style="left:1568.8px;top:584.4px;width:62.2px;height:81.0px;">低迷<br>注意</div>
<div class="t c n" style="left:1568.8px;top:665.8px;width:62.2px;height:35.7px;">−3</div>
<div class="t c n" style="left:1568.8px;top:806.8px;width:62.2px;height:36.0px;">−3</div>
<div class="t c b" style="left:1568.8px;top:842.8px;width:62.2px;height:36.5px;">22日</div>
<div class="t c b" style="left:1631.1px;top:367.0px;width:62.2px;height:43.2px;">23日</div>
<div class="t c " style="left:1631.1px;top:410.2px;width:62.2px;height:36.0px;">月</div>
<div class="t c " style="left:1631.1px;top:446.2px;width:62.2px;height:36.3px;">辛</div>
<div class="t c " style="left:1631.1px;top:482.5px;width:62.2px;height:35.8px;">巳</div>
<div class="t c " style="left:1631.1px;top:518.4px;width:62.2px;height:65.2px;line-height:25px;">九紫<br>火星</div>
<div class="t c " style="left:1631.1px;top:584.4px;width:62.2px;height:81.0px;">明暗<br>慎重</div>
<div class="t c n" style="left:1631.1px;top:665.8px;width:62.2px;height:35.7px;">5</div>
<div class="t c red" style="left:1631.1px;top:700.7px;width:62.2px;height:69.3px;">暗剣</div>
<div class="t c n" style="left:1631.1px;top:770.8px;width:62.2px;height:36.0px;">−8</div>
<div class="t c n" style="left:1631.1px;top:806.8px;width:62.2px;height:36.0px;">−3</div>
<div class="t c b" style="left:1631.1px;top:842.8px;width:62.2px;height:36.5px;">23日</div>
<div class="t c b" style="left:1693.3px;top:367.0px;width:62.2px;height:43.2px;">24日</div>
<div class="t c " style="left:1693.3px;top:410.2px;width:62.2px;height:36.0px;">火</div>
<div class="t c " style="left:1693.3px;top:446.2px;width:62.2px;height:36.3px;">壬</div>
<div class="t c " style="left:1693.3px;top:482.5px;width:62.2px;height:35.8px;">午</div>
<div class="t c " style="left:1693.3px;top:518.4px;width:62.2px;height:65.2px;line-height:25px;">一白<br>水星</div>
<div class="t c " style="left:1693.3px;top:584.4px;width:62.2px;height:81.0px;">現状<br>維持</div>
<div class="t c n" style="left:1693.3px;top:665.8px;width:62.2px;height:35.7px;">−2</div>
<div class="t c n" style="left:1693.3px;top:806.8px;width:62.2px;height:36.0px;">−2</div>
<div class="t c b" style="left:1693.3px;top:842.8px;width:62.2px;height:36.5px;">24日</div>
<div class="t c b" style="left:1755.5px;top:367.0px;width:62.2px;height:43.2px;">25日</div>
<div class="t c " style="left:1755.5px;top:410.2px;width:62.2px;height:36.0px;">水</div>
<div class="t c " style="left:1755.5px;top:446.2px;width:62.2px;height:36.3px;">癸</div>
<div class="t c " style="left:1755.5px;top:482.5px;width:62.2px;height:35.8px;">未</div>
<div class="t c " style="left:1755.5px;top:518.4px;width:62.2px;height:65.2px;line-height:25px;">二黒<br>土星</div>
<div class="t c " style="left:1755.5px;top:584.4px;width:62.2px;height:81.0px;">金運<br>交際</div>
<div class="t c n" style="left:1755.5px;top:665.8px;width:62.2px;height:35.7px;">6</div>
<div class="t c n" style="left:1755.5px;top:806.8px;width:62.2px;height:36.0px;">6</div>
<div class="t c b" style="left:1755.5px;top:842.8px;width:62.2px;height:36.5px;">25日</div>
<div class="t c b" style="left:1817.8px;top:367.0px;width:62.2px;height:43.2px;">26日</div>
<div class="t c " style="left:1817.8px;top:410.2px;width:62.2px;height:36.0px;">木</div>
<div class="t c " style="left:1817.8px;top:446.2px;width:62.2px;height:36.3px;">甲</div>
<div class="t c " style="left:1817.8px;top:482.5px;width:62.2px;height:35.8px;">申</div>
<div class="t c " style="left:1817.8px;top:518.4px;width:62.2px;height:65.2px;line-height:25px;">三碧<br>木星</div>
<div class="t c " style="left:1817.8px;top:584.4px;width:62.2px;height:81.0px;">強運<br>傾運</div>
<div class="t c n" style="left:1817.8px;top:665.8px;width:62.2px;height:35.7px;">7</div>
<div class="t c n" style="left:1817.8px;top:806.8px;width:62.2px;height:36.0px;">7</div>
<div class="t c b" style="left:1817.8px;top:842.8px;width:62.2px;height:36.5px;">26日</div>
<div class="t c b" style="left:1880.0px;top:367.0px;width:62.2px;height:43.2px;">27日</div>
<div class="t c " style="left:1880.0px;top:410.2px;width:62.2px;height:36.0px;">金</div>
<div class="t c " style="left:1880.0px;top:446.2px;width:62.2px;height:36.3px;">乙</div>
<div class="t c " style="left:1880.0px;top:482.5px;width:62.2px;height:35.8px;">酉</div>
<div class="t c " style="left:1880.0px;top:518.4px;width:62.2px;height:65.2px;line-height:25px;">四緑<br>木星</div>
<div class="t c " style="left:1880.0px;top:584.4px;width:62.2px;height:81.0px;">盛極<br>静観</div>
<div class="t c n" style="left:1880.0px;top:665.8px;width:62.2px;height:35.7px;">4</div>
<div class="t c n" style="left:1880.0px;top:806.8px;width:62.2px;height:36.0px;">4</div>
<div class="t c b" style="left:1880.0px;top:842.8px;width:62.2px;height:36.5px;">27日</div>
<div class="t c b" style="left:1942.2px;top:367.0px;width:62.2px;height:43.2px;">28日</div>
<div class="t c " style="left:1942.2px;top:410.2px;width:62.2px;height:36.0px;">土</div>
<div class="t c " style="left:1942.2px;top:446.2px;width:62.2px;height:36.3px;">丙</div>
<div class="t c " style="left:1942.2px;top:482.5px;width:62.2px;height:35.8px;">戌</div>
<div class="t c " style="left:1942.2px;top:518.4px;width:62.2px;height:65.2px;line-height:25px;">五黄<br>土星</div>
<div class="t c " style="left:1942.2px;top:584.4px;width:62.2px;height:81.0px;">福運<br>隆盛</div>
<div class="t c n" style="left:1942.2px;top:665.8px;width:62.2px;height:35.7px;">9</div>
<div class="t c red" style="left:1942.2px;top:700.7px;width:62.2px;height:69.3px;">日破</div>
<div class="t c n" style="left:1942.2px;top:770.8px;width:62.2px;height:36.0px;">−8</div>
<div class="t c n" style="left:1942.2px;top:806.8px;width:62.2px;height:36.0px;">1</div>
<div class="t c b" style="left:1942.2px;top:842.8px;width:62.2px;height:36.5px;">28日</div>
<div class="t c b" style="left:2004.5px;top:367.0px;width:62.2px;height:43.2px;">29日</div>
<div class="t c red" style="left:2004.5px;top:410.2px;width:62.2px;height:36.0px;">日</div>
<div class="t c " style="left:2004.5px;top:446.2px;width:62.2px;height:36.3px;">丁</div>
<div class="t c " style="left:2004.5px;top:482.5px;width:62.2px;height:35.8px;">亥</div>
<div class="t c " style="left:2004.5px;top:518.4px;width:62.2px;height:65.2px;line-height:25px;">六白<br>金星</div>
<div class="t c " style="left:2004.5px;top:584.4px;width:62.2px;height:81.0px;">開運<br>発展</div>
<div class="t c n" style="left:2004.5px;top:665.8px;width:62.2px;height:35.7px;">8</div>
<div class="t c n" style="left:2004.5px;top:806.8px;width:62.2px;height:36.0px;">8</div>
<div class="t c b" style="left:2004.5px;top:842.8px;width:62.2px;height:36.5px;">29日</div>
<div class="t c b" style="left:2066.7px;top:367.0px;width:62.2px;height:43.2px;">30日</div>
<div class="t c " style="left:2066.7px;top:410.2px;width:62.2px;height:36.0px;">月</div>
<div class="t c " style="left:2066.7px;top:446.2px;width:62.2px;height:36.3px;">戊</div>
<div class="t c " style="left:2066.7px;top:482.5px;width:62.2px;height:35.8px;">子</div>
<div class="t c " style="left:2066.7px;top:518.4px;width:62.2px;height:65.2px;line-height:25px;">七赤<br>金星</div>
<div class="t c " style="left:2066.7px;top:584.4px;width:62.2px;height:81.0px;">準備<br>始動</div>
<div class="t c n" style="left:2066.7px;top:665.8px;width:62.2px;height:35.7px;">2</div>
<div class="t c n" style="left:2066.7px;top:806.8px;width:62.2px;height:36.0px;">2</div>
<div class="t c b" style="left:2066.7px;top:842.8px;width:62.2px;height:36.5px;">30日</div>
<div class="t c b" style="left:2128.9px;top:367.0px;width:62.2px;height:43.2px;">31日</div>
<div class="t c " style="left:2128.9px;top:410.2px;width:62.2px;height:36.0px;">火</div>
<div class="t c " style="left:2128.9px;top:446.2px;width:62.2px;height:36.3px;">己</div>
<div class="t c " style="left:2128.9px;top:482.5px;width:62.2px;height:35.8px;">丑</div>
<div class="t c " style="left:2128.9px;top:518.4px;width:62.2px;height:65.2px;line-height:25px;">八白<br>土星</div>
<div class="t c " style="left:2128.9px;top:584.4px;width:62.2px;height:81.0px;">低迷<br>注意</div>
<div class="t c n" style="left:2128.9px;top:665.8px;width:62.2px;height:35.7px;">−3</div>
<div class="t c n" style="left:2128.9px;top:806.8px;width:62.2px;height:36.0px;">−3</div>
<div class="t c b" style="left:2128.9px;top:842.8px;width:62.2px;height:36.5px;">31日</div>
<div class="t c" style="left:144.0px;top:876.5px;width:117.9px;height:144.5px;font-size:21px;">好調期</div>
<div class="t c" style="left:144.0px;top:1021.0px;width:117.9px;height:144.6px;font-size:21px;">安定期</div>
<div class="t c" style="left:144.0px;top:1165.6px;width:117.9px;height:143.6px;font-size:21px;">低迷期</div>
<script>
(function(){var l=document.querySelectorAll('.ft');for(var i=0;i<l.length;i++){var e=l[i],w=parseFloat(e.style.getPropertyValue('--w')),a=e.getBoundingClientRect().width;if(w&&a&&Math.abs(a-w)>2){e.style.transformOrigin='0 50%';e.style.transform='scaleX('+(w/a)+')';}}})();
</script>
</body>
</html>
